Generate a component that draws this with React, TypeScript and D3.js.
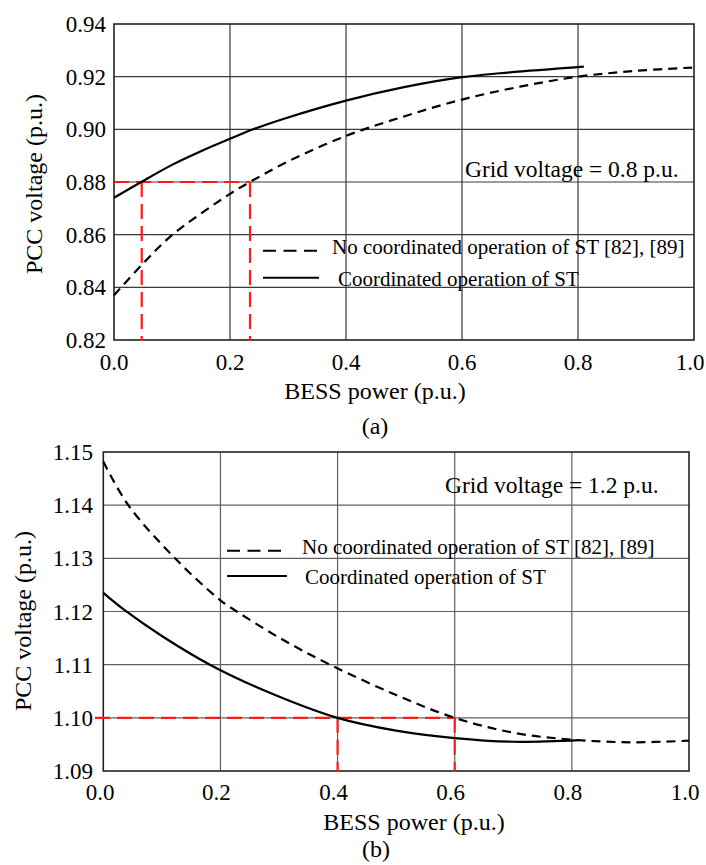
import React from "react";
import * as d3 from "d3";

// ---------- data ----------
const xTicks = [0, 0.2, 0.4, 0.6, 0.8, 1.0];
const yTicksA = [0.82, 0.84, 0.86, 0.88, 0.9, 0.92, 0.94];
const yTicksB = [1.09, 1.1, 1.11, 1.12, 1.13, 1.14, 1.15];

// (a) grid voltage = 0.8 p.u.
const aNoCoordX = [0, 0.05, 0.1, 0.2, 0.2345, 0.3, 0.4, 0.5, 0.6, 0.7, 0.8, 0.9, 1.0];
const aNoCoordY = [0.837, 0.849, 0.8598, 0.8755, 0.88, 0.8878, 0.8975, 0.9049, 0.9113, 0.9162, 0.92, 0.9222, 0.9235];
const aCoordX = [0, 0.047, 0.1, 0.148, 0.2, 0.24, 0.3, 0.4, 0.5, 0.6, 0.666, 0.81];
const aCoordY = [0.874, 0.88, 0.8865, 0.8915, 0.8964, 0.9, 0.9045, 0.9109, 0.916, 0.9198, 0.9213, 0.9238];
const aRefV = 0.88;
const aRefX = [0.0478, 0.2345];

// (b) grid voltage = 1.2 p.u.
const bNoCoordX = [0, 0.0427, 0.1225, 0.2, 0.228, 0.3, 0.387, 0.5, 0.6, 0.7, 0.8, 0.9, 1.0];
const bNoCoordY = [1.1482, 1.14, 1.13, 1.1221, 1.12, 1.1151, 1.11, 1.1043, 1.1, 1.0972, 1.0959, 1.0954, 1.0957];
const bCoordX = [0, 0.037, 0.1, 0.182, 0.274, 0.4, 0.5, 0.6, 0.7, 0.813];
const bCoordY = [1.1235, 1.1202, 1.1154, 1.11, 1.1052, 1.1, 1.0976, 1.0962, 1.0955, 1.0958];
const bRefV = 1.1;
const bRefX = [0.4, 0.6];

const legendNo = "No coordinated operation of ST [82], [89]";
const legendCo = "Coordinated operation of ST";
const xTitle = "BESS power (p.u.)";
const yTitle = "PCC voltage (p.u.)";

const FONT = "'Liberation Serif', 'Times New Roman', serif";

type PanelProps = {
  box: { l: number; r: number; t: number; b: number };
  yDomain: [number, number];
  yTicks: number[];
  noX: number[]; noY: number[];
  coX: number[]; coY: number[];
  refV: number; refX: number[]; refStart: number;
  gridColor: string;
  yLabelX: number;
  xLabelY: number; xLabelShift: number;
  yTitleX: number; yTitleY: number;
  xTitleX: number; xTitleY: number;
  capX: number; capY: number; caption: string;
  gridText: string; gridTextX: number; gridTextY: number;
  leg: { x1: number; x2: number; y1: number; y2: number; tx1: number; tx2: number; ty1: number; ty2: number };
};

function Panel(p: PanelProps) {
  const x = d3.scaleLinear().domain([0, 1]).range([p.box.l, p.box.r]);
  const y = d3.scaleLinear().domain(p.yDomain).range([p.box.b, p.box.t]);
  const line = d3
    .line<[number, number]>()
    .x((d) => x(d[0]))
    .y((d) => y(d[1]))
    .curve(d3.curveCatmullRom.alpha(0.5));
  const noPath = line(p.noX.map((v, i) => [v, p.noY[i]] as [number, number])) || "";
  const coPath = line(p.coX.map((v, i) => [v, p.coY[i]] as [number, number])) || "";
  const red = "#ff1a1a";
  return (
    <g>
      <rect x={p.box.l} y={p.box.t} width={p.box.r - p.box.l} height={p.box.b - p.box.t} fill="#fff" />
      {xTicks.slice(1, -1).map((t) => (
        <line key={"gx" + t} x1={x(t)} x2={x(t)} y1={p.box.t} y2={p.box.b} stroke={p.gridColor} strokeWidth={1.2} />
      ))}
      {p.yTicks.slice(1, -1).map((t) => (
        <line key={"gy" + t} x1={p.box.l} x2={p.box.r} y1={y(t)} y2={y(t)} stroke={p.gridColor} strokeWidth={1.2} />
      ))}
      <rect x={p.box.l} y={p.box.t} width={p.box.r - p.box.l} height={p.box.b - p.box.t} fill="none" stroke="#222" strokeWidth={1.6} />
      {/* red reference lines */}
      <line x1={p.refStart} x2={x(p.refX[1])} y1={y(p.refV)} y2={y(p.refV)} stroke={red} strokeWidth={2.2} strokeDasharray="15,7" />
      {p.refX.map((r) => (
        <line key={"rv" + r} x1={x(r)} x2={x(r)} y1={y(p.refV)} y2={p.box.b + 1} stroke={red} strokeWidth={2.2} strokeDasharray="15,7" />
      ))}
      {/* curves */}
      <path d={noPath} fill="none" stroke="#000" strokeWidth={2.2} strokeDasharray="9,6" />
      <path d={coPath} fill="none" stroke="#000" strokeWidth={2.2} />
      {/* legend */}
      <line x1={p.leg.x1} x2={p.leg.x2} y1={p.leg.y1} y2={p.leg.y1} stroke="#000" strokeWidth={2} strokeDasharray="13,7.5" />
      <line x1={p.leg.x1} x2={p.leg.x2 + 2} y1={p.leg.y2} y2={p.leg.y2} stroke="#000" strokeWidth={2} />
      <text x={p.leg.tx1} y={p.leg.ty1} fontSize={21} fontFamily={FONT}>{legendNo}</text>
      <text x={p.leg.tx2} y={p.leg.ty2} fontSize={21} fontFamily={FONT}>{legendCo}</text>
      <text x={p.gridTextX} y={p.gridTextY} fontSize={23.5} fontFamily={FONT}>{p.gridText}</text>
      {/* tick labels */}
      {p.yTicks.map((t) => (
        <text key={"yl" + t} x={p.yLabelX} y={y(t) + 8} textAnchor="end" fontSize={23} fontFamily={FONT}>
          {t.toFixed(2)}
        </text>
      ))}
      {xTicks.map((t, i) => {
        let cx = x(t) + p.xLabelShift;
        if (i === xTicks.length - 1) cx = Math.min(cx, 690);
        if (i === 0) cx = Math.max(cx, 100);
        return (
          <text key={"xl" + t} x={cx} y={p.xLabelY} textAnchor="middle" fontSize={23} fontFamily={FONT}>
            {t.toFixed(1)}
          </text>
        );
      })}
      <text x={p.xTitleX} y={p.xTitleY} textAnchor="middle" fontSize={24} fontFamily={FONT}>{xTitle}</text>
      <text
        transform={`translate(${p.yTitleX},${p.yTitleY}) rotate(-90)`}
        textAnchor="middle"
        fontSize={24}
        fontFamily={FONT}
      >
        {yTitle}
      </text>
      <text x={p.capX} y={p.capY} textAnchor="middle" fontSize={24} fontFamily={FONT}>{p.caption}</text>
    </g>
  );
}

export default function App() {
  return (
    <svg
      width={706}
      height={865}
      viewBox="0 0 706 865"
      style={{ position: "absolute", left: 0, top: 0, background: "#fff" }}
    >
      <rect x={0} y={0} width={706} height={865} fill="#fff" />
      <Panel
        box={{ l: 114, r: 694, t: 24, b: 340 }}
        yDomain={[0.82, 0.94]}
        yTicks={yTicksA}
        noX={aNoCoordX} noY={aNoCoordY}
        coX={aCoordX} coY={aCoordY}
        refV={aRefV} refX={aRefX} refStart={114}
        gridColor="#3a3a3a"
        yLabelX={106}
        xLabelY={370} xLabelShift={0}
        yTitleX={42} yTitleY={184}
        xTitleX={375} xTitleY={399}
        capX={375} capY={434} caption="(a)"
        gridText="Grid voltage = 0.8 p.u." gridTextX={465} gridTextY={177}
        leg={{ x1: 263, x2: 317, y1: 250.7, y2: 277.7, tx1: 332, tx2: 338, ty1: 254, ty2: 286 }}
      />
      <Panel
        box={{ l: 103.3, r: 689, t: 452, b: 771 }}
        yDomain={[1.09, 1.15]}
        yTicks={yTicksB}
        noX={bNoCoordX} noY={bNoCoordY}
        coX={bCoordX} coY={bCoordY}
        refV={bRefV} refX={bRefX} refStart={95}
        gridColor="#606060"
        yLabelX={93}
        xLabelY={800} xLabelShift={-4}
        yTitleX={31} yTitleY={621}
        xTitleX={414} xTitleY={830}
        capX={376} capY={857} caption="(b)"
        gridText="Grid voltage = 1.2 p.u." gridTextX={445} gridTextY={493}
        leg={{ x1: 227, x2: 285, y1: 550.7, y2: 576, tx1: 302, tx2: 305, ty1: 554, ty2: 584 }}
      />
    </svg>
  );
}
